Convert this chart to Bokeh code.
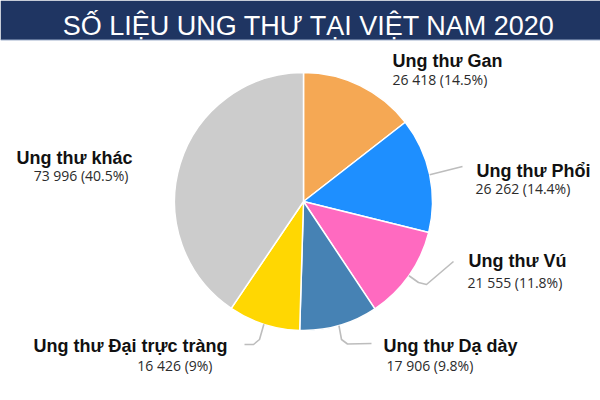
import numpy as np
from bokeh.plotting import figure
from bokeh.models import ColumnDataSource, Range1d
from bokeh.embed import file_html
from bokeh.resources import INLINE
from bokeh.core.properties import value

# ---------------- data ----------------
chart_title = "SỐ LIỆU UNG THƯ TẠI VIỆT NAM 2020"
categories = ["Ung thư Gan", "Ung thư Phổi", "Ung thư Vú", "Ung thư Dạ dày",
              "Ung thư Đại trực tràng", "Ung thư khác"]
cases = [26418, 26262, 21555, 17906, 16426, 73996]
colors = ["#F5A854", "#1E8FFF", "#FF6AC0", "#4682B4", "#FFD702", "#CCCCCC"]

# ---------------- layout (reference pixel coords) ----------------
label_x = [392, 476, 468, 383, 227, 132]
value_x = [392, 475, 467, 386, 212, 128]
label_base = [60.5, 170.5, 260.5, 345.5, 345.5, 157.5]
value_base = [78.5, 187.5, 281.5, 365.0, 365.0, 174.5]
aligns = ["left", "left", "left", "left", "right", "right"]
# leader elbow points after the slice edge (None = no leader)
leader_tail = [None,
               [(462, 166)],
               [(418, 282), (426, 284), (453, 261)],
               [(341, 339), (347, 343.5), (371, 343)],
               [(259, 339), (253, 344), (244, 344)],
               None]

CX, CY, R = 303, 201, 129


def Y(yref):
    return 400 - yref


p = figure(width=600, height=400, output_backend="svg", toolbar_location=None,
           x_range=Range1d(0, 600), y_range=Range1d(0, 400),
           x_axis_type=None, y_axis_type=None, min_border=0)
p.grid.visible = False
p.outline_line_color = None
p.background_fill_color = "white"
p.border_fill_color = "white"

# title bar
p.quad(left=[0], right=[600], bottom=[Y(39.5)], top=[Y(0)],
       fill_color="#1F3562", line_color=None)
p.segment(x0=[0], y0=[Y(39.5)], x1=[600], y1=[Y(39.5)], line_color="#9FB0CC", line_width=1)
p.text(x=[308.5], y=[Y(25.6)], text=[chart_title], text_font=value("Liberation Sans"),
       text_font_size="27px", text_color="white", text_align="center",
       text_baseline="alphabetic")

# pie
vals = np.array(cases, dtype=float)
total = vals.sum()
frac = vals / total
cum_end = np.cumsum(frac)
cum_start = cum_end - frac
start_angle = np.pi / 2 - 2 * np.pi * cum_end
end_angle = np.pi / 2 - 2 * np.pi * cum_start

src = ColumnDataSource(dict(start=start_angle, end=end_angle, color=colors))
p.wedge(x=CX, y=Y(CY), radius=R, start_angle="start", end_angle="end",
        direction="anticlock", fill_color="color", line_color="white",
        line_width=1.5, source=src)

# leaders
mid = 2 * np.pi * (cum_start + cum_end) / 2
for i, tail in enumerate(leader_tail):
    if tail is None:
        continue
    xs = [CX + R * np.sin(mid[i])] + [t[0] for t in tail]
    ys = [Y(CY - R * np.cos(mid[i]))] + [Y(t[1]) for t in tail]
    p.line(xs, ys, line_color="#BDBDBD", line_width=1.6, line_join="round")

# labels
pcts = ["{:g}%".format(round(f * 100, 1)) for f in frac]
values_txt = ["{} ({})".format(f"{c:,}".replace(",", " "), pc) for c, pc in zip(cases, pcts)]
for i in range(len(categories)):
    p.text(x=[label_x[i]], y=[Y(label_base[i])], text=[categories[i]],
           text_font=value("Liberation Sans"), text_font_style="bold",
           text_font_size="18px", text_color="#111111", text_align=aligns[i],
           text_baseline="alphabetic")
    p.text(x=[value_x[i]], y=[Y(value_base[i])], text=[values_txt[i]],
           text_font=value("Open Sans"), text_font_size="14px", text_color="#2b2b2b",
           text_align=aligns[i], text_baseline="alphabetic")

open("out.html", "w").write(file_html(p, INLINE))
